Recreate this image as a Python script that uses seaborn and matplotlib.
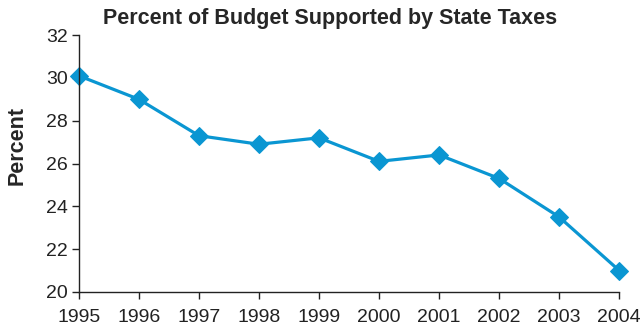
import matplotlib
matplotlib.use("Agg")
import matplotlib.pyplot as plt
import seaborn as sns
import pandas as pd

# data
years = [1995, 1996, 1997, 1998, 1999, 2000, 2001, 2002, 2003, 2004]
percent = [30.1, 29.0, 27.3, 26.9, 27.2, 26.1, 26.4, 25.3, 23.5, 21.0]
y_ticks = [20, 22, 24, 26, 28, 30, 32]

df = pd.DataFrame({'Year': years, 'Percent': percent})

sns.set_style('white')
plt.rcParams['font.family'] = ['Liberation Sans', 'DejaVu Sans']

fig = plt.figure(figsize=(6.41, 3.28), dpi=100)
ax = fig.add_axes([0.123, 0.110, 0.843, 0.783])

sns.lineplot(data=df, x='Year', y='Percent', ax=ax, color='#0a96d2',
             linewidth=2.3, marker='D', markersize=9.5, markeredgecolor='#0a96d2')

ax.set_xlim(1995, 2004)
ax.set_ylim(20, 32)
ax.set_xticks(years)
ax.set_yticks(y_ticks)
ax.tick_params(axis='both', direction='out', length=5, width=1, color='#222222',
               labelsize=14, labelcolor='#222222', pad=3, bottom=True, left=True)
ax.tick_params(axis='x', pad=7)
for s in ['top', 'right']:
    ax.spines[s].set_visible(False)
for s in ['left', 'bottom']:
    ax.spines[s].set_color('#222222')
    ax.spines[s].set_linewidth(1)

ax.set_xlabel('')
ax.set_ylabel('Percent', fontsize=15.5, fontweight='bold')
ax.yaxis.set_label_coords(-0.095, 0.57)
ax.set_title('Percent of Budget Supported by State Taxes', fontsize=15.5,
             fontweight='bold', pad=8, x=0.465)
ax.lines[0].set_clip_on(False)

fig.savefig('out.png', dpi=100)
